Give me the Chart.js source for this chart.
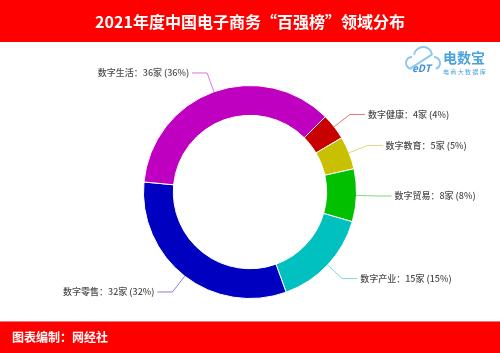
<!DOCTYPE html>
<html>
<head>
<meta charset="utf-8">
<script src="https://cdn.jsdelivr.net/npm/chart.js@4/dist/chart.umd.min.js"></script>
<style>
  body { margin: 0; background: #fff; }
  canvas { display: block; }
</style>
</head>
<body>
<canvas id="pieChart" width="500" height="353"></canvas>
<script>
var categories = ['数字健康', '数字教育', '数字贸易', '数字产业', '数字零售', '数字生活'];
var counts = [4, 5, 8, 15, 32, 36];
var sliceColors = ['#c80000', '#c8c000', '#00c000', '#00c0c0', '#0000c0', '#c000c0'];
var lineColors = ['#e07a7a', '#dcd878', '#7adc7a', '#7ad8d8', '#8080e0', '#d67ad6'];

var title = '2021年度中国电子商务“百强榜”领域分布';
var footer = '图表编制：网经社';
var fontFamily = '"Noto Sans CJK SC", "Noto Sans", sans-serif';

// red bands, title and the logo
var framePlugin = {
  id: 'frame',
  beforeDraw: function(chart) {
    var ctx = chart.ctx;
    ctx.save();
    ctx.fillStyle = '#ff0000';
    ctx.fillRect(0, 0, 500, 42);
    ctx.fillRect(0, 322, 500, 31);
    ctx.fillStyle = '#f07a7a';
    ctx.fillRect(0, 321, 500, 1);

    ctx.fillStyle = '#ffffff';
    ctx.textBaseline = 'middle';
    ctx.textAlign = 'center';
    ctx.font = 'bold 16px ' + fontFamily;
    ctx.fillText(title, 250, 22);
    ctx.textAlign = 'left';
    ctx.font = 'bold 12px ' + fontFamily;
    ctx.fillText(footer, 12, 337);

    // logo
    ctx.strokeStyle = '#8cc8f0';
    ctx.lineWidth = 2;
    ctx.beginPath();
    ctx.arc(423, 56, 9, Math.PI * 1.05, Math.PI * 1.95);
    ctx.arc(412, 63, 6, Math.PI * 0.6, Math.PI * 1.5);
    ctx.stroke();
    ctx.beginPath();
    ctx.arc(434, 63, 6, Math.PI * 1.5, Math.PI * 0.4);
    ctx.stroke();
    ctx.font = 'italic bold 10px ' + fontFamily;
    ctx.fillStyle = '#3d8fd8';
    ctx.fillText('eDT', 412, 68);
    ctx.font = 'bold 14px ' + fontFamily;
    ctx.fillStyle = '#4aa3df';
    ctx.fillText('电数宝', 443, 58);
    ctx.font = '6px ' + fontFamily;
    ctx.fillText('电 商 大 数 据 库', 443, 72);
    ctx.restore();
  }
};

// outside labels with leader lines
var labelPlugin = {
  id: 'outLabels',
  afterDatasetsDraw: function(chart) {
    var ctx = chart.ctx;
    var meta = chart.getDatasetMeta(0);
    var total = counts.reduce(function(a, b) { return a + b; }, 0);
    ctx.save();
    ctx.font = '500 9px ' + fontFamily;
    ctx.textBaseline = 'middle';
    meta.data.forEach(function(arc, i) {
      var p = arc.getProps(['x', 'y', 'startAngle', 'endAngle', 'outerRadius'], true);
      var mid = (p.startAngle + p.endAngle) / 2;
      var cos = Math.cos(mid), sin = Math.sin(mid);
      var x0 = p.x + cos * p.outerRadius;
      var y0 = p.y + sin * p.outerRadius;
      var x1 = p.x + cos * (p.outerRadius + 20);
      var y1 = p.y + sin * (p.outerRadius + 20);
      var right = cos >= 0;
      var x2 = x1 + (right ? 15 : -15);
      ctx.strokeStyle = lineColors[i];
      ctx.lineWidth = 1;
      ctx.beginPath();
      ctx.moveTo(x0, y0);
      ctx.lineTo(x1, y1);
      ctx.lineTo(x2, y1);
      ctx.stroke();
      var pct = Math.round(counts[i] / total * 100);
      var text = categories[i] + '：' + counts[i] + '家 (' + pct + '%)';
      ctx.fillStyle = '#4d4d4d';
      ctx.textAlign = right ? 'left' : 'right';
      ctx.fillText(text, x2 + (right ? 3 : -3), y1);
    });
    ctx.restore();
  }
};

var ctx = document.getElementById('pieChart').getContext('2d');
new Chart(ctx, {
  type: 'doughnut',
  data: {
    labels: categories,
    datasets: [{
      data: counts,
      backgroundColor: sliceColors,
      borderColor: '#ffffff',
      borderWidth: 1
    }]
  },
  options: {
    responsive: false,
    animation: false,
    rotation: 45,
    cutout: '72%',
    layout: {
      padding: { top: 85, bottom: 54, left: 100, right: 100 }
    },
    plugins: {
      legend: { display: false },
      tooltip: { enabled: false }
    }
  },
  plugins: [framePlugin, labelPlugin]
});
</script>
</body>
</html>
